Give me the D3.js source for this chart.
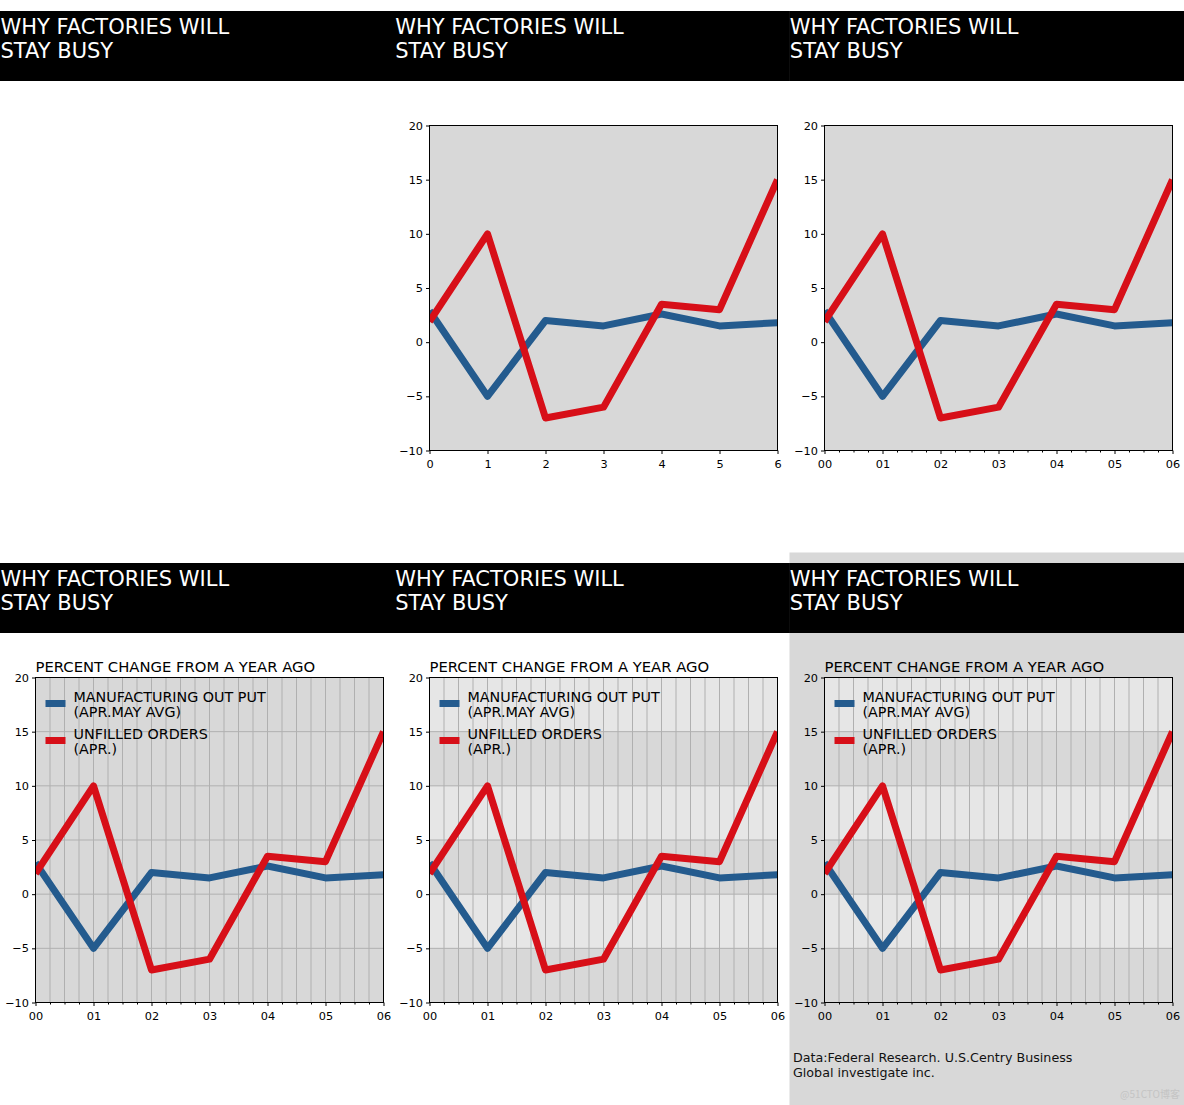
<!DOCTYPE html>
<html>
<head>
<meta charset="utf-8">
<script src="https://cdn.jsdelivr.net/npm/d3@7"></script>
<style>
html,body{margin:0;padding:0;background:#fff;}
svg{display:block;font-family:"DejaVu Sans",sans-serif;}
</style>
</head>
<body>
<svg id="chart" width="1184" height="1105"></svg>
<script>
// ---- data ----
const xIndex = [0, 1, 2, 3, 4, 5, 6];
const yearLabels = ["00", "01", "02", "03", "04", "05", "06"];
const plainLabels = ["0", "1", "2", "3", "4", "5", "6"];
const manufacturing = [2.9, -5, 2, 1.5, 2.6, 1.5, 1.8];
const unfilled = [1.9, 10, -7, -6, 3.5, 3, 15];
const yTicks = [-10, -5, 0, 5, 10, 15, 20];
const seriesNames = [["MANUFACTURING OUT PUT", "(APR.MAY AVG)"], ["UNFILLED ORDERS", "(APR.)"]];
const headerLines = ["WHY FACTORIES WILL", "STAY BUSY"];
const subtitle = "PERCENT CHANGE FROM A YEAR AGO";
const footerLines = ["Data:Federal Research. U.S.Centry Business", "Global investigate inc."];

const BLUE = "#245b8e", RED = "#d70f18";
const FACE = "#d8d8d8", LIGHT = "#e6e6e6", GRID = "#b0b0b0";

const svg = d3.select("#chart");
const colW = 1184 / 3;

// figure background for the bottom-right panel
svg.append("rect").attr("x", 789.5).attr("y", 552.5).attr("width", 1184 - 789.5).attr("height", 1105 - 552.5).attr("fill", FACE);

function header(col, top) {
  const g = svg.append("g");
  g.append("rect").attr("x", col * colW).attr("y", top).attr("width", colW + 0.5).attr("height", 70).attr("fill", "#000");
  headerLines.forEach((t, i) => {
    g.append("text").attr("x", col * colW + 0.5).attr("y", top + 23 + i * 23.5)
      .attr("fill", "#fff").attr("font-size", 21).text(t);
  });
}

let clipId = 0;
function panel(opt) {
  const {left, right, top, bottom} = opt;
  const x = d3.scaleLinear().domain([0, 6]).range([left, right]);
  const y = d3.scaleLinear().domain([-10, 20]).range([bottom, top]);
  const g = svg.append("g");
  g.append("rect").attr("x", left).attr("y", top).attr("width", right - left).attr("height", bottom - top).attr("fill", FACE);
  if (opt.bands) {
    for (let i = 0; i < yTicks.length - 1; i++) {
      if ((yTicks.length - 2 - i) % 2 === 0) {
        g.append("rect").attr("x", left).attr("width", right - left)
          .attr("y", y(yTicks[i + 1])).attr("height", y(yTicks[i]) - y(yTicks[i + 1]))
          .attr("fill", LIGHT);
      }
    }
  }
  const minor = d3.range(0, 6.001, 0.25).filter(v => Math.abs(v - Math.round(v)) > 1e-6);
  if (opt.grid) {
    const allX = d3.range(0, 6.001, 0.25);
    g.append("g").selectAll("line").data(allX).join("line")
      .attr("x1", d => x(d)).attr("x2", d => x(d)).attr("y1", top).attr("y2", bottom)
      .attr("stroke", GRID).attr("stroke-width", 1);
    g.append("g").selectAll("line").data(yTicks).join("line")
      .attr("x1", left).attr("x2", right).attr("y1", d => y(d)).attr("y2", d => y(d))
      .attr("stroke", GRID).attr("stroke-width", 1);
  }
  const id = "clip" + (clipId++);
  svg.append("clipPath").attr("id", id).append("rect").attr("x", left).attr("y", top).attr("width", right - left).attr("height", bottom - top);
  const line = d3.line().x((d, i) => x(xIndex[i])).y(d => y(d));
  const lg = g.append("g").attr("clip-path", `url(#${id})`);
  lg.append("path").datum(manufacturing).attr("d", line).attr("fill", "none").attr("stroke", BLUE)
    .attr("stroke-width", 7).attr("stroke-linejoin", "round");
  lg.append("path").datum(unfilled).attr("d", line).attr("fill", "none").attr("stroke", RED)
    .attr("stroke-width", 7).attr("stroke-linejoin", "round");
  // frame
  g.append("rect").attr("x", left).attr("y", top).attr("width", right - left).attr("height", bottom - top)
    .attr("fill", "none").attr("stroke", "#000").attr("stroke-width", 1);
  // axes
  const labels = opt.plain ? plainLabels : yearLabels;
  const xa = g.append("g").attr("transform", `translate(0,${bottom})`)
    .call(d3.axisBottom(x).tickValues(xIndex).tickFormat(i => labels[i]).tickSize(3.5).tickPadding(5.5).tickSizeOuter(0));
  if (opt.minor) {
    g.append("g").attr("transform", `translate(0,${bottom})`)
      .call(d3.axisBottom(x).tickValues(minor).tickFormat("").tickSize(2).tickSizeOuter(0))
      .call(s => s.select(".domain").remove());
  }
  const ya = g.append("g").attr("transform", `translate(${left},0)`)
    .call(d3.axisLeft(y).tickValues(yTicks).tickFormat(d3.format("d")).tickSize(3.5).tickPadding(3).tickSizeOuter(0));
  [xa, ya].forEach(a => {
    a.select(".domain").remove();
    a.selectAll("text").attr("font-family", "DejaVu Sans").attr("font-size", 11.3).attr("fill", "#000");
    a.selectAll("line").attr("stroke", "#000");
  });
  if (opt.legend) {
    g.append("text").attr("x", left).attr("y", top - 6).attr("font-size", 14.8).attr("fill", "#000").text(subtitle);
    const colors = [BLUE, RED];
    const ys = [26, 63];
    colors.forEach((c, k) => {
      g.append("line").attr("x1", left + 10).attr("x2", left + 30).attr("y1", top + ys[k]).attr("y2", top + ys[k])
        .attr("stroke", c).attr("stroke-width", 7);
      seriesNames[k].forEach((t, j) => {
        g.append("text").attr("x", left + 38).attr("y", top + ys[k] - 2 + j * 15.5)
          .attr("font-size", 14.3).attr("fill", "#000").text(t);
      });
    });
  }
}

// top row
header(0, 11); header(1, 11); header(2, 11);
panel({left: 429.5, right: 777.5, top: 125.5, bottom: 450.5, plain: true});
panel({left: 824.5, right: 1172.5, top: 125.5, bottom: 450.5, minor: true});
// bottom row
header(0, 563); header(1, 563); header(2, 563);
panel({left: 35.5, right: 383.5, top: 677.5, bottom: 1002.5, minor: true, grid: true, legend: true});
panel({left: 429.5, right: 777.5, top: 677.5, bottom: 1002.5, minor: true, grid: true, legend: true, bands: true});
panel({left: 824.5, right: 1172.5, top: 677.5, bottom: 1002.5, minor: true, grid: true, legend: true, bands: true});

footerLines.forEach((t, i) => {
  svg.append("text").attr("x", 793).attr("y", 1062 + i * 14.5).attr("font-size", 12.7).attr("fill", "#111").text(t);
});
svg.append("text").attr("x", 1180).attr("y", 1098).attr("text-anchor", "end")
  .attr("font-family", "Noto Sans CJK SC").attr("font-size", 10).attr("fill", "#c4c4c4").text("@51CTO博客");
</script>
</body>
</html>
